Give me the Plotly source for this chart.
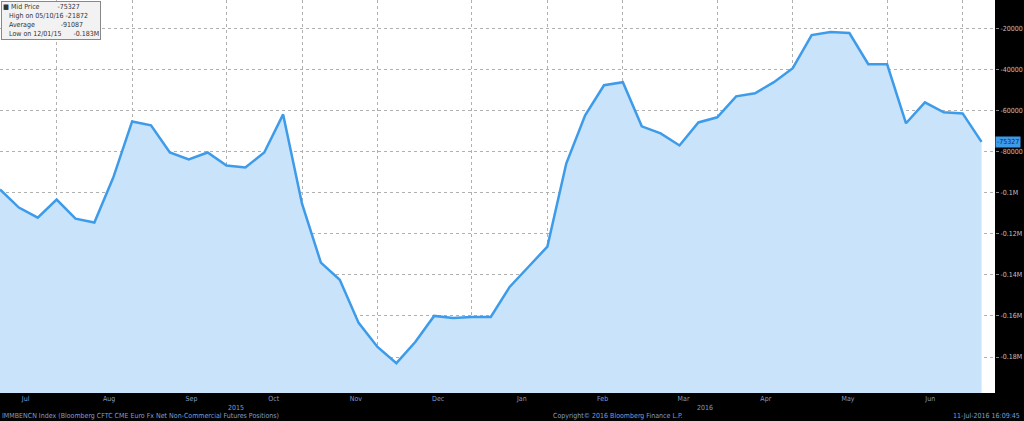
import pandas as pd
import plotly.graph_objects as go

dates = pd.date_range("2015-07-07", periods=53, freq="7D")
values = [-98500,-107300,-112200,-103400,-112700,-114600,-92700,-65400,-67300,-80500,
          -83900,-80500,-86800,-87800,-80500,-62000,-105400,-134100,-142400,-163400,
          -175100,-183000,-172700,-160000,-161000,-160500,-160500,-145900,-136100,-126300,
          -85900,-62400,-47800,-46300,-67800,-71200,-77100,-65900,-63400,-53200,
          -51700,-46300,-39500,-23400,-21872,-22400,-37600,-37600,-66300,-56100,
          -61000,-61500,-75327]
ytick_vals = [-20000,-40000,-60000,-80000,-100000,-120000,-140000,-160000,-180000]
ytick_text = ["-20000","-40000","-60000","-80000","-0.1M","-0.12M","-0.14M","-0.16M","-0.18M"]
grid_dates = ["2015-07-28","2015-08-25","2015-09-29","2015-10-27","2015-11-24","2015-12-29",
              "2016-01-26","2016-02-23","2016-03-29","2016-04-26","2016-05-31","2016-06-28"]
YMIN = -197500

fig = go.Figure()
fig.add_trace(go.Scatter(x=dates, y=[YMIN]*len(dates), mode="lines", line=dict(width=0),
    showlegend=False, hoverinfo="skip"))
fig.add_trace(go.Scatter(x=dates, y=values, mode="lines", fill="tonexty", fillcolor="#c9e3fa",
    line=dict(color="#3d9be9", width=2.5), showlegend=False))

fig.update_layout(
    width=1024, height=421, paper_bgcolor="black", plot_bgcolor="white",
    margin=dict(l=0, r=29, t=0, b=28, autoexpand=False), showlegend=False,
    font=dict(family="DejaVu Sans Condensed, DejaVu Sans", size=8, color="#7f9fd0"),
    xaxis=dict(range=["2015-07-07", "2016-07-10"], dtick="M1", tick0="2015-07-01",
               tickformat="%b", ticklabelmode="period",
               showgrid=False, ticks="", ticklen=0,
               minor=dict(tickvals=grid_dates, showgrid=True,
                          gridcolor="#b0b0b0", griddash="dot", gridwidth=1, ticks=""),
               tickfont=dict(size=7, color="#7f9fd0"), showline=False, zeroline=False),
    yaxis=dict(side="right", range=[YMIN, -6340], tickvals=ytick_vals, ticktext=ytick_text,
               showgrid=True, gridcolor="#b0b0b0", griddash="dot", ticks="outside",
               ticklen=3, tickcolor="#888", zeroline=False,
               tickfont=dict(size=7, color="#c0c0c0")),
)
for x, t in [(236/995, "2015"), (705/995, "2016")]:
    fig.add_annotation(xref="paper", yref="paper", x=x, y=-0.038, text=t, showarrow=False,
        xanchor="center", yanchor="middle", font=dict(size=7, color="#7f9fd0"))
foot = dict(size=7, color="#7f9fd0")
fig.add_annotation(xref="paper", yref="paper", x=0.0, y=-0.058, text="IMMBENCN Index (Bloomberg CFTC CME Euro Fx Net Non-Commercial Futures Positions)",
    showarrow=False, xanchor="left", yanchor="middle", font=foot)
fig.add_annotation(xref="paper", yref="paper", x=551/995, y=-0.058, text="Copyright© 2016 Bloomberg Finance L.P.",
    showarrow=False, xanchor="left", yanchor="middle", font=foot)
fig.add_annotation(xref="paper", yref="paper", x=1022/995, y=-0.058, text="11-Jul-2016 16:09:45",
    showarrow=False, xanchor="right", yanchor="middle", font=foot)
fig.add_annotation(xref="paper", y=-75327, x=1.0, text="-75327", showarrow=False, xanchor="left",
    bgcolor="#3d9be9", font=dict(size=7, color="#0a2a60"), borderpad=1)
fig.add_annotation(xref="paper", yref="paper", x=0.001, y=0.998, xanchor="left", yanchor="top",
    text="■ Mid Price         -75327<br>   High on 05/10/16 -21872<br>   Average             -91087<br>   Low on 12/01/15      -0.183M",
    align="left", showarrow=False, bgcolor="#f2f2f2", bordercolor="#888", borderwidth=1,
    font=dict(size=7, color="#333"))
fig.write_html("out.html", config={"displayModeBar": False})
with open("out.html", encoding="utf-8") as f:
    html = f.read()
html = html.replace("<head>", "<head><style>html,body{margin:0;padding:0;background:black;overflow:hidden}</style>", 1)
with open("out.html", "w", encoding="utf-8") as f:
    f.write(html)
